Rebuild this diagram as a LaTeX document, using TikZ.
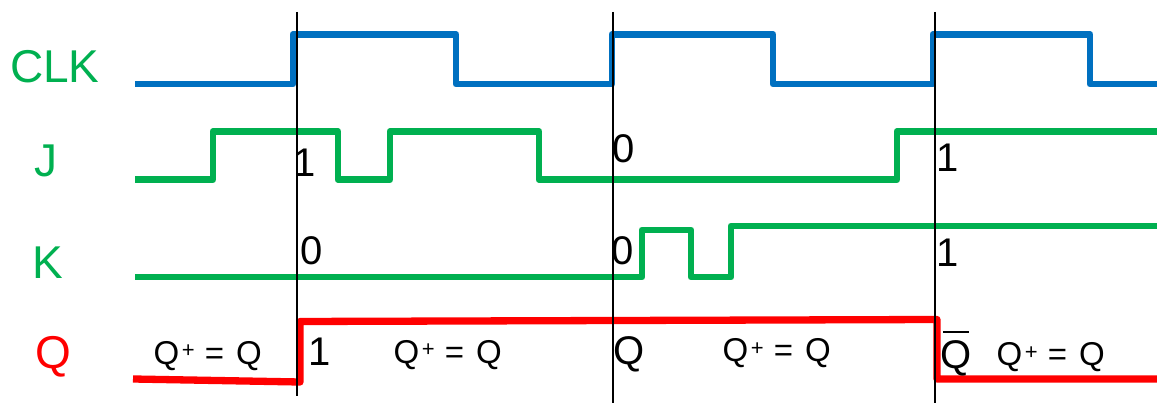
\documentclass[tikz,border=0pt]{standalone}
\usepackage{fontspec}
\setmainfont{Liberation Sans}
\definecolor{clkblue}{HTML}{0070C0}
\definecolor{sgreen}{HTML}{00B050}
\definecolor{qred}{HTML}{FF0000}
\newcommand{\qplusq}{Q\hspace{2.5pt}\raisebox{6.3pt}{\fontsize{22}{22}\selectfont +}\hspace{1pt} = \hspace{3pt}Q}
\newcommand{\qbarsym}{\rlap{\hspace{3pt}\rule[36pt]{26pt}{1.8pt}}Q}
\begin{document}
\begin{tikzpicture}[x=1pt,y=-1pt,
  sig/.style={line width=6.7pt, line join=round},
  clksig/.style={sig, draw=clkblue},
  jksig/.style={sig, draw=sgreen},
  qsig/.style={line width=7.3pt, line join=round, draw=qred},
  tline/.style={line width=1.4pt, draw=black},
  lab/.style={anchor=base west, inner sep=0pt, font=\fontsize{46}{46}\selectfont, text=sgreen},
  dig/.style={anchor=base west, inner sep=0pt, font=\fontsize{40}{40}\selectfont},
  eqn/.style={anchor=base west, inner sep=0pt, font=\fontsize{33}{33}\selectfont}]
\useasboundingbox (0,0) rectangle (1157,403);
% signal names
\node[lab] (clk) at (10,83) {CLK};
\node[lab] (j) at (34,177) {J};
\node[lab] (k) at (32,279) {K};
\node[lab, text=qred] (q) at (35,369) {Q};
% waveforms
\draw[clksig] (135,84) -- (293,84) -- (293,34.5) -- (456,34.5) -- (456,84) -- (612,84) -- (612,34.5) -- (773,34.5) -- (773,84) -- (933,84) -- (933,34.5) -- (1090,34.5) -- (1090,84) -- (1157,84);
\draw[jksig] (135,179.5) -- (213,179.5) -- (213,131.5) -- (338,131.5) -- (338,179.5) -- (390,179.5) -- (390,131.5) -- (539,131.5) -- (539,179.5) -- (897,179.5) -- (897,131.5) -- (1157,131.5);
\draw[jksig] (135,277) -- (642,277) -- (642,230) -- (691,230) -- (691,277) -- (731,277) -- (731,226) -- (1157,226);
\draw[qsig] (133,379) -- (300,382) -- (300,321.5) -- (937,319.5) -- (937,379) -- (1157,379);
% clock edge markers
\coordinate (e1t) at (297,12); \coordinate (e1b) at (297,396);
\coordinate (e2t) at (613,12); \coordinate (e2b) at (613,403);
\coordinate (e3t) at (935,12); \coordinate (e3b) at (935,403);
\draw[tline] (e1t) -- (e1b);
\draw[tline] (e2t) -- (e2b);
\draw[tline] (e3t) -- (e3b);
% J and K values
\node[dig] (j1) at (293,177) {1};
\node[dig] (k1) at (300,265) {0};
\node[dig] (j2) at (612,163) {0};
\node[dig] (k2) at (611,265) {0};
\node[dig] (j3) at (936,172) {1};
\node[dig] (k3) at (936,267) {1};
% Q row texts
\node[eqn] (eq1) at (153.4,364) {\qplusq};
\node[dig] (q1) at (308,366) {1};
\node[eqn] (eq2) at (393.4,363) {\qplusq};
\node[dig] (q2) at (613,364) {Q};
\node[eqn] (eq3) at (722.4,362) {\qplusq};
\node[dig] (q3) at (940,369) {\qbarsym};
\node[eqn] (eq4) at (996.4,366) {\qplusq};
\end{tikzpicture}
\end{document}
